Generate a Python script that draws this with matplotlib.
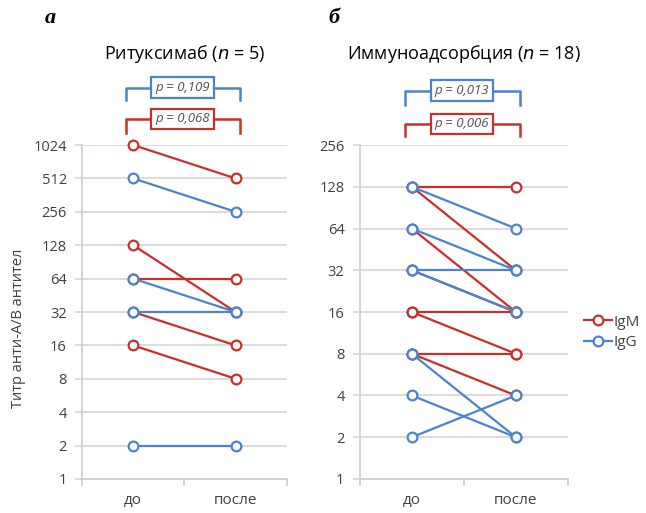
import matplotlib
matplotlib.use('Agg')
import matplotlib.pyplot as plt
import matplotlib.transforms as mtransforms

# Ритуксимаб (n = 5)
rit_igm_before = [1024, 128, 64, 32, 16]
rit_igm_after = [512, 32, 64, 16, 8]
rit_igg_before = [512, 64, 32, 2]
rit_igg_after = [256, 32, 32, 2]
rit_yticks = [1, 2, 4, 8, 16, 32, 64, 128, 256, 512, 1024]
rit_p = ['p = 0,109', 'p = 0,068']

# Иммуноадсорбция (n = 18)
ia_igm_before = [128, 128, 64, 32, 16, 16, 8, 8]
ia_igm_after = [128, 32, 16, 16, 16, 8, 8, 4]
ia_igg_before = [128, 64, 32, 32, 8, 4, 2]
ia_igg_after = [64, 32, 32, 16, 2, 2, 4]
ia_yticks = [1, 2, 4, 8, 16, 32, 64, 128, 256]
ia_p = ['p = 0,013', 'p = 0,006']

categories = ['до', 'после']

RED = '#C8302C'
BLUE = '#4A84CC'
GRID = '#D9D9D9'
TXT = '#404040'

plt.rcParams['font.family'] = ['Open Sans', 'DejaVu Sans']

fig = plt.figure(figsize=(6.46, 5.13), dpi=100)


def draw_panel(ax, igm_b, igm_a, igg_b, igg_a, yticks, pvals, title, bracket_y):
    xs = [1, 2]
    for b, a in zip(igm_b, igm_a):
        ax.plot(xs, [b, a], color=RED, lw=1.6, marker='o', ms=7,
                mfc='white', mec=RED, mew=1.6, zorder=3, clip_on=False)
    for b, a in zip(igg_b, igg_a):
        ax.plot(xs, [b, a], color=BLUE, lw=1.6, marker='o', ms=7,
                mfc='white', mec=BLUE, mew=1.6, zorder=4, clip_on=False)

    ax.set_yscale('log', base=2)
    ax.set_ylim(yticks[0], yticks[-1])
    ax.set_yticks(yticks)
    ax.set_yticklabels([str(t) for t in yticks])
    ax.minorticks_off()
    ax.set_xlim(0.5, 2.5)
    ax.set_xticks([1, 2])
    ax.set_xticklabels(categories)
    ax.set_xticks([0.5, 1.5, 2.5], minor=True)

    ax.grid(axis='y', color=GRID, lw=1.3)
    ax.set_axisbelow(True)
    for s in ['top', 'right']:
        ax.spines[s].set_visible(False)
    for s in ['left', 'bottom']:
        ax.spines[s].set_color('#C8CDD6')
        ax.spines[s].set_linewidth(1.2)
    ax.tick_params(axis='y', which='major', direction='out', length=5,
                   color=GRID, width=1.3, labelsize=10.5, labelcolor=TXT, pad=6)
    ax.tick_params(axis='x', which='major', length=0, labelsize=11,
                   labelcolor=TXT, pad=10)
    ax.tick_params(axis='x', which='minor', direction='out', length=5,
                   color='#C8CDD6', width=1.2)

    ax.set_title(title, fontsize=13, color='black', pad=62)

    # brackets with p-values
    trans = mtransforms.blended_transform_factory(ax.transData, ax.transAxes)
    for (ytop, yleg), color, ptxt in zip(bracket_y, [BLUE, RED], pvals):
        ax.plot([0.93, 0.93, 2.04, 2.04], [yleg, ytop, ytop, yleg],
                color=color, lw=1.8, transform=trans, clip_on=False)
        ax.text(1.48, ytop, ptxt, transform=trans, ha='center', va='center',
                fontsize=9.5, style='italic', color='#505050',
                bbox=dict(boxstyle='square,pad=0.3', fc='white', ec=color, lw=1.6))


ax1 = fig.add_axes([0.127, 0.0663, 0.317, 0.651])
draw_panel(ax1, rit_igm_before, rit_igm_after, rit_igg_before, rit_igg_after,
           rit_yticks, rit_p, 'Ритуксимаб ($n$ = 5)',
           [(1.171, 1.135), (1.078, 1.036)])
ax1.set_ylabel('Титр анти-A/B антител', fontsize=10.5, color=TXT)
ax1.yaxis.set_label_coords(-0.275, 0.45)

ax2 = fig.add_axes([0.557, 0.0663, 0.322, 0.651])
draw_panel(ax2, ia_igm_before, ia_igm_after, ia_igg_before, ia_igg_after,
           ia_yticks, ia_p, 'Иммуноадсорбция ($n$ = 18)',
           [(1.162, 1.12), (1.063, 1.027)])

# legend
h1, = ax2.plot([], [], color=RED, lw=1.6, marker='o', ms=7, mfc='white', mec=RED, mew=1.6)
h2, = ax2.plot([], [], color=BLUE, lw=1.6, marker='o', ms=7, mfc='white', mec=BLUE, mew=1.6)
fig.legend([h1, h2], ['IgM', 'IgG'], loc='center left', bbox_to_anchor=(0.895, 0.352),
           frameon=False, fontsize=11, handlelength=1.8, handletextpad=0.1,
           labelspacing=0.35, labelcolor=TXT, borderaxespad=0)

fig.text(0.07, 0.965, 'а', fontsize=16, weight='bold', style='italic',
         family='Liberation Serif', ha='left', va='center')
fig.text(0.508, 0.965, 'б', fontsize=16, weight='bold', style='italic',
         family='Liberation Serif', ha='left', va='center')

fig.savefig('out.png', dpi=100)
